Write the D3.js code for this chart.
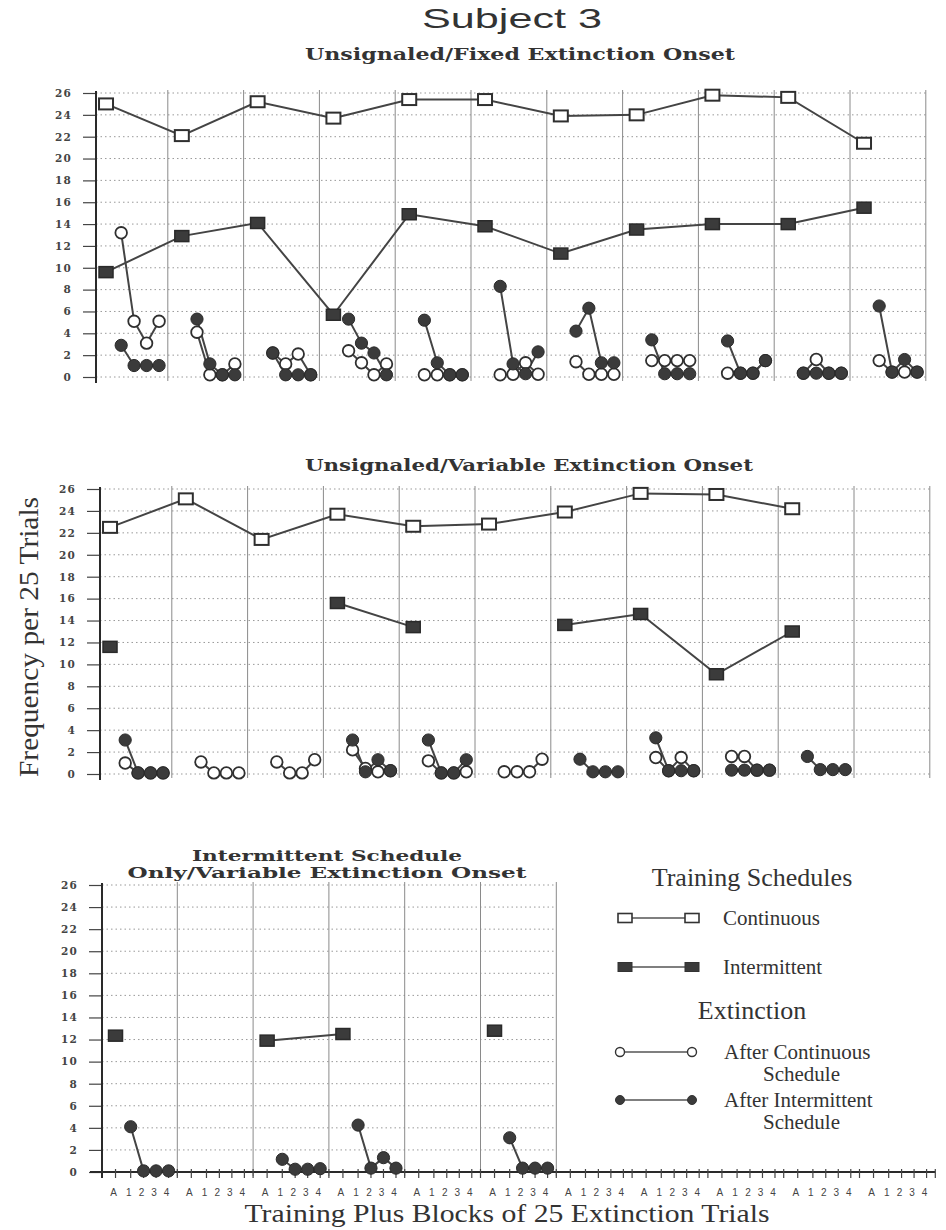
<!DOCTYPE html>
<html><head><meta charset="utf-8">
<script src="https://cdn.jsdelivr.net/npm/d3@7"></script>
<style>body{margin:0;background:#fff}</style>
</head><body>
<svg id="c" width="946" height="1230" xmlns="http://www.w3.org/2000/svg"></svg>
<script>
// ---------------- DATA ----------------
const sections = d3.range(1, 12);               // 11 training sections
const positions = ["A", "1", "2", "3", "4"];    // training + 4 extinction blocks
const yTicks = d3.range(0, 27, 2);

const mainTitle = "Subject 3";
const panelTitles = [
  ["Unsignaled/Fixed Extinction Onset"],
  ["Unsignaled/Variable Extinction Onset"],
  ["Intermittent Schedule", "Only/Variable Extinction Onset"]
];
const yLabel = "Frequency per 25 Trials";
const xLabel = "Training Plus Blocks of 25 Extinction Trials";

// Panel 1: Unsignaled / Fixed
const fixedContinuous   = [25.0, 22.1, 25.2, 23.7, 25.4, 25.4, 23.9, 24.0, 25.8, 25.6, 21.4];
const fixedIntermittent = [9.6, 12.9, 14.1, 5.7, 14.9, 13.8, 11.3, 13.5, 14.0, 14.0, 15.5];
const fixedExtAfterCont = [
  [13.2, 5.1, 3.1, 5.1], [4.1, 0.2, 0.2, 1.2], [2.2, 1.2, 2.1, 0.2], [2.4, 1.3, 0.2, 1.2],
  [0.2, 0.2, 0.2, 0.2], [0.2, 0.25, 1.3, 0.25], [1.4, 0.25, 0.25, 0.25], [1.5, 1.5, 1.5, 1.5],
  [0.35, 0.35, 0.35, 1.5], [0.35, 1.6, 0.35, 0.35], [1.5, 0.45, 0.45, 0.45]
];
const fixedExtAfterInt = [
  [2.9, 1.05, 1.05, 1.05], [5.3, 1.2, 0.2, 0.2], [2.2, 0.2, 0.2, 0.2], [5.3, 3.1, 2.2, 0.2],
  [5.2, 1.3, 0.2, 0.2], [8.3, 1.2, 0.3, 2.3], [4.2, 6.3, 1.3, 1.3], [3.4, 0.3, 0.3, 0.3],
  [3.3, 0.35, 0.35, 1.5], [0.35, 0.35, 0.35, 0.35], [6.5, 0.45, 1.6, 0.45]
];

// Panel 2: Unsignaled / Variable
const variableContinuous   = [22.5, 25.1, 21.4, 23.7, 22.6, 22.8, 23.9, 25.6, 25.5, 24.2, null];
const variableIntermittent = [11.6, null, null, 15.6, 13.4, null, 13.6, 14.6, 9.1, 13.0, null];
const variableExtAfterCont = [
  [1.0, 0.1, 0.1, 0.1], [1.1, 0.1, 0.1, 0.1], [1.1, 0.1, 0.1, 1.3], [2.2, 0.5, 0.2, 0.3],
  [1.2, 0.1, 0.1, 0.2], [0.2, 0.2, 0.2, 1.35], null, [1.5, 0.3, 1.5, 0.3],
  [1.6, 1.6, 0.35, 0.35], null, null
];
const variableExtAfterInt = [
  [3.1, 0.1, 0.1, 0.1], null, null, [3.1, 0.2, 1.3, 0.3],
  [3.1, 0.1, 0.1, 1.3], null, [1.35, 0.2, 0.2, 0.2], [3.3, 0.3, 0.3, 0.3],
  [0.35, 0.35, 0.35, 0.35], [1.6, 0.4, 0.4, 0.4], null
];

// Panel 3: Intermittent schedule only / Variable
const intOnlyContinuous   = [null, null, null, null, null, null, null, null, null, null, null];
const intOnlyIntermittent = [12.35, null, 11.9, 12.5, null, 12.8, null, null, null, null, null];
const intOnlyExtAfterCont = [null, null, null, null, null, null, null, null, null, null, null];
const intOnlyExtAfterInt  = [
  [4.1, 0.1, 0.1, 0.1], null, [1.15, 0.25, 0.25, 0.3], [4.25, 0.35, 1.3, 0.35],
  null, [3.1, 0.35, 0.35, 0.35], null, null, null, null, null
];

const legendTitles = ["Training Schedules", "Extinction"];
const trainingLegend = ["Continuous", "Intermittent"];
const extinctionLegend = [["After Continuous", "Schedule"], ["After Intermittent", "Schedule"]];

// ---------------- LAYOUT ----------------
const layout = {
  sectionWidth: 75.8,
  subPos: [0.185, 0.385, 0.555, 0.72, 0.885],
  panels: [
    { x0: 92,    axisX: 96,  y0: 377,  yTop: 93,  gridSections: 11, xAxis: false,
      titleX: 520, titleY: [60], titleW: [430], titleSize: 16 },
    { x0: 96,    axisX: 100, y0: 774,  yTop: 489, gridSections: 11, xAxis: false,
      titleX: 529, titleY: [471], titleW: [448], titleSize: 16 },
    { x0: 101.5, axisX: 102, y0: 1172, yTop: 885, gridSections: 6,  xAxis: true,
      titleX: 327, titleY: [861, 878], titleW: [270, 399], titleSize: 14 }
  ]
};
const ink = "#333";
const lineInk = "#444";
const markFill = "#3b3b3b";

const panels = [
  { cont: fixedContinuous, inter: fixedIntermittent, extC: fixedExtAfterCont, extI: fixedExtAfterInt },
  { cont: variableContinuous, inter: variableIntermittent, extC: variableExtAfterCont, extI: variableExtAfterInt },
  { cont: intOnlyContinuous, inter: intOnlyIntermittent, extC: intOnlyExtAfterCont, extI: intOnlyExtAfterInt }
];

const svg = d3.select("#c");
svg.append("rect").attr("width", 946).attr("height", 1230).attr("fill", "#fff");

const sub = d3.scaleOrdinal().domain(positions).range(layout.subPos);

// Main title
svg.append("text").attr("x", 512).attr("y", 28).attr("text-anchor", "middle")
  .attr("font-family", "Liberation Sans, Arial, sans-serif").attr("font-size", 28)
  .attr("fill", ink).attr("textLength", 180).attr("lengthAdjust", "spacingAndGlyphs").text(mainTitle);

panels.forEach((pd, i) => {
  const L = layout.panels[i];
  const W = layout.sectionWidth;
  const x = d3.scaleBand().domain(sections).range([L.x0, L.x0 + sections.length * W]);
  const y = d3.scaleLinear().domain([0, 26]).range([L.y0, L.yTop]);
  const px = (s, p) => x(s) + sub(p) * x.bandwidth();
  const g = svg.append("g");
  const gridSecs = sections.slice(0, L.gridSections);
  const gridRight = x(gridSecs[gridSecs.length - 1]) + x.bandwidth();

  // title
  panelTitles[i].forEach((t, k) => {
    g.append("text").attr("x", L.titleX).attr("y", L.titleY[k]).attr("text-anchor", "middle")
      .attr("font-family", "DejaVu Serif, serif").attr("font-weight", "bold").attr("font-size", L.titleSize)
      .attr("fill", ink).attr("textLength", L.titleW[k]).attr("lengthAdjust", "spacingAndGlyphs").text(t);
  });

  // horizontal dotted grid
  g.append("g").selectAll("line").data(yTicks).join("line")
    .attr("x1", L.axisX).attr("x2", gridRight)
    .attr("y1", d => y(d)).attr("y2", d => y(d))
    .attr("stroke", "#999").attr("stroke-width", 1).attr("stroke-dasharray", "1.5,3");

  // vertical section dividers
  g.append("g").selectAll("line").data(gridSecs).join("line")
    .attr("x1", d => x(d) + x.bandwidth()).attr("x2", d => x(d) + x.bandwidth())
    .attr("y1", y(0) + 4).attr("y2", y(26) - 3)
    .attr("stroke", "#8a8a8a").attr("stroke-width", 1);

  // y axis
  const ax = d3.axisLeft(y).tickValues(yTicks).tickSize(13).tickPadding(11).tickSizeOuter(0);
  const ag = g.append("g").attr("transform", `translate(${L.axisX},0)`).call(ax);
  ag.select(".domain").remove();
  ag.selectAll(".tick line").attr("stroke", "#444").attr("stroke-width", 1.2);
  ag.selectAll(".tick text").attr("font-family", "DejaVu Serif, serif").attr("font-weight", "bold")
    .attr("font-size", 10.5).attr("fill", "#444").attr("letter-spacing", 1.2);
  g.append("line").attr("x1", L.axisX).attr("x2", L.axisX)
    .attr("y1", y(0) + 6).attr("y2", y(26) - 2).attr("stroke", "#2a2a2a").attr("stroke-width", 2);

  // bottom x axis (only on last panel)
  if (L.xAxis) {
    const xEnd = x(sections[sections.length - 1]) + x.bandwidth();
    g.append("line").attr("x1", L.axisX - 12).attr("x2", xEnd).attr("y1", y(0)).attr("y2", y(0))
      .attr("stroke", "#2a2a2a").attr("stroke-width", 2);
    const tickData = [];
    sections.forEach(s => positions.forEach(p => tickData.push({ s, p })));
    g.append("g").selectAll("line").data(tickData).join("line")
      .attr("x1", d => px(d.s, d.p)).attr("x2", d => px(d.s, d.p))
      .attr("y1", y(0) - 3).attr("y2", y(0) + 6).attr("stroke", "#444").attr("stroke-width", 1.2);
    g.append("g").selectAll("line").data(sections).join("line")
      .attr("x1", d => x(d) + x.bandwidth()).attr("x2", d => x(d) + x.bandwidth())
      .attr("y1", y(0) - 3).attr("y2", y(0) + 6).attr("stroke", "#444").attr("stroke-width", 1.2);
    g.append("g").selectAll("text").data(tickData).join("text")
      .attr("x", d => px(d.s, d.p) - 2).attr("y", y(0) + 24).attr("text-anchor", "middle")
      .attr("font-family", "Liberation Sans, Arial, sans-serif").attr("font-size", 10)
      .attr("fill", "#444").text(d => d.p);
  }

  // training lines
  const trainLine = d3.line().defined(d => d.v != null).x(d => px(d.s, "A")).y(d => y(d.v));
  const contPts = sections.map((s, k) => ({ s, v: pd.cont[k] }));
  const intPts = sections.map((s, k) => ({ s, v: pd.inter[k] }));
  [contPts, intPts].forEach(pts => {
    g.append("path").datum(pts).attr("d", trainLine).attr("fill", "none")
      .attr("stroke", lineInk).attr("stroke-width", 2);
  });

  // extinction lines
  const extLine = d3.line().x(d => px(d.s, d.p)).y(d => y(d.v));
  const extPts = arr => sections.filter((s, k) => arr[k] != null)
    .map(s => arr[s - 1].map((v, j) => ({ s, p: positions[j + 1], v })));
  const extCPts = extPts(pd.extC), extIPts = extPts(pd.extI);
  [extCPts, extIPts].forEach(groups => {
    g.append("g").selectAll("path").data(groups).join("path")
      .attr("d", extLine).attr("fill", "none").attr("stroke", lineInk).attr("stroke-width", 2);
  });

  // training markers
  const sqW = 14, sqH = 11;
  g.append("g").selectAll("rect").data(contPts.filter(d => d.v != null)).join("rect")
    .attr("x", d => px(d.s, "A") - sqW / 2).attr("y", d => y(d.v) - sqH / 2)
    .attr("width", sqW).attr("height", sqH).attr("fill", "#fff").attr("stroke", "#2f2f2f").attr("stroke-width", 2);
  g.append("g").selectAll("rect").data(intPts.filter(d => d.v != null)).join("rect")
    .attr("x", d => px(d.s, "A") - sqW / 2).attr("y", d => y(d.v) - sqH / 2)
    .attr("width", sqW).attr("height", sqH).attr("fill", markFill).attr("stroke", "#2a2a2a").attr("stroke-width", 1.5);

  // extinction markers (open first, filled on top)
  g.append("g").selectAll("circle").data(extCPts.flat()).join("circle")
    .attr("cx", d => px(d.s, d.p)).attr("cy", d => y(d.v)).attr("r", 5.8)
    .attr("fill", "#fff").attr("stroke", "#2f2f2f").attr("stroke-width", 1.8);
  g.append("g").selectAll("circle").data(extIPts.flat()).join("circle")
    .attr("cx", d => px(d.s, d.p)).attr("cy", d => y(d.v)).attr("r", 6.1)
    .attr("fill", markFill).attr("stroke", "#2a2a2a").attr("stroke-width", 1);
});

// axis titles
svg.append("text").attr("transform", "translate(38,637) rotate(-90)").attr("text-anchor", "middle")
  .attr("font-family", "Liberation Serif, Times New Roman, serif").attr("font-size", 28)
  .attr("fill", ink).attr("textLength", 280).attr("lengthAdjust", "spacingAndGlyphs").text(yLabel);
svg.append("text").attr("x", 507).attr("y", 1222).attr("text-anchor", "middle")
  .attr("font-family", "Liberation Serif, Times New Roman, serif").attr("font-size", 26)
  .attr("fill", ink).attr("textLength", 525).attr("lengthAdjust", "spacingAndGlyphs").text(xLabel);

// ---------------- LEGEND ----------------
const lg = svg.append("g").attr("font-family", "Liberation Serif, Times New Roman, serif").attr("fill", ink);
const legTitleY = [886, 1019];
legendTitles.forEach((t, k) => {
  lg.append("text").attr("x", 752).attr("y", legTitleY[k]).attr("text-anchor", "middle")
    .attr("font-size", 26).attr("fill", ink).text(t);
});
const trainY = [918, 967];
trainingLegend.forEach((t, k) => {
  const yy = trainY[k];
  lg.append("line").attr("x1", 625).attr("x2", 692).attr("y1", yy).attr("y2", yy)
    .attr("stroke", "#555").attr("stroke-width", 1.3);
  [625, 692].forEach(xx => {
    lg.append("rect").attr("x", xx - 7).attr("y", yy - 4.5).attr("width", 14).attr("height", 9)
      .attr("fill", k === 0 ? "#fff" : markFill).attr("stroke", "#333").attr("stroke-width", k === 0 ? 1.6 : 1);
  });
  lg.append("text").attr("x", 723).attr("y", yy + 7).attr("font-size", 21).attr("fill", ink).text(t);
});
const extY = [1052, 1100];
extinctionLegend.forEach((lines, k) => {
  const yy = extY[k];
  lg.append("line").attr("x1", 620).attr("x2", 692).attr("y1", yy).attr("y2", yy)
    .attr("stroke", "#555").attr("stroke-width", 1.3);
  [620, 692].forEach(xx => {
    lg.append("circle").attr("cx", xx).attr("cy", yy).attr("r", 4.5)
      .attr("fill", k === 0 ? "#fff" : markFill).attr("stroke", "#333").attr("stroke-width", k === 0 ? 1.4 : 1);
  });
  lg.append("text").attr("x", 724).attr("y", yy + 7).attr("font-size", 21).attr("fill", ink).text(lines[0]);
  lg.append("text").attr("x", 763).attr("y", yy + 29).attr("font-size", 21).attr("fill", ink).text(lines[1]);
});
</script>
</body></html>
